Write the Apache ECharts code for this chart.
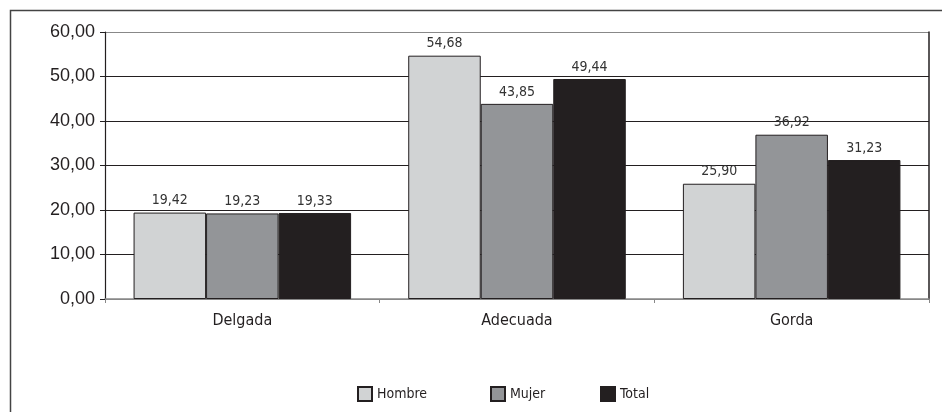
<!DOCTYPE html>
<html>
<head>
<meta charset="utf-8">
<script src="https://cdn.jsdelivr.net/npm/echarts@6/dist/echarts.min.js"></script>
<style>html,body{margin:0;padding:0;background:#fff}#c{width:942px;height:412px}</style>
</head>
<body>
<div id="c"></div>
<script>
var categories = ['Delgada', 'Adecuada', 'Gorda'];
var hombre = [19.42, 54.68, 25.90];
var mujer = [19.23, 43.85, 36.92];
var total = [19.33, 49.44, 31.23];
var seriesNames = ['Hombre', 'Mujer', 'Total'];
var yTicks = [0, 10, 20, 30, 40, 50, 60];

var narrow = "'DejaVu Sans Condensed', 'Liberation Sans Narrow', sans-serif";
var colors = ['#d1d3d4', '#939598', '#231f20'];
function fmt(v) { return Number(v).toFixed(2).replace('.', ','); }

var chart = echarts.init(document.getElementById('c'), null, {renderer: 'canvas'});
var seriesData = [hombre, mujer, total];
var series = seriesNames.map(function (n, i) {
  return {
    name: n, type: 'bar', data: seriesData[i],
    barGap: '0%', barCategoryGap: '20.8%',
    itemStyle: {color: colors[i], borderColor: '#231f20', borderWidth: 1},
    label: {show: true, position: 'top', distance: 5, formatter: function (p) { return fmt(p.value); },
      fontFamily: narrow, fontSize: 14, color: '#333'},
    emphasis: {disabled: true}
  };
});
var legendLefts = [357, 490, 600];
chart.setOption({
  animation: false,
  backgroundColor: '#fff',
  grid: {left: 105, right: 13, top: 32, bottom: 113, containLabel: false},
  xAxis: {
    type: 'category', data: categories,
    axisLine: {lineStyle: {color: '#888', width: 1.5}},
    axisTick: {show: true, length: 4, lineStyle: {color: '#888'}},
    axisLabel: {fontFamily: narrow, fontSize: 16, color: '#231f20', margin: 14}
  },
  yAxis: [{
    type: 'value', min: yTicks[0], max: yTicks[yTicks.length - 1], interval: 10,
    axisLine: {show: true, lineStyle: {color: '#231f20', width: 1.2}},
    axisTick: {show: true, length: 5, lineStyle: {color: '#231f20'}},
    axisLabel: {fontFamily: "'Liberation Sans', Arial, sans-serif", fontSize: 18, color: '#231f20', margin: 10,
      formatter: function (v) { return fmt(v); }},
    splitLine: {show: true, lineStyle: {color: ['#888', '#231f20', '#231f20', '#231f20', '#231f20', '#231f20', '#888'], width: 1.2}}
  }, {
    type: 'value', min: yTicks[0], max: yTicks[yTicks.length - 1], interval: 10, position: 'right',
    axisLine: {show: true, lineStyle: {color: '#231f20', width: 1.5}},
    axisTick: {show: false}, axisLabel: {show: false}, splitLine: {show: false}
  }],
  legend: seriesNames.map(function (n, i) {
    return {
      data: [n], left: legendLefts[i], top: 386, padding: 0, icon: 'rect',
      itemWidth: 14, itemHeight: 14, itemGap: 0,
      textStyle: {fontFamily: narrow, fontSize: 14, color: '#231f20'},
      selectedMode: false
    };
  }),
  graphic: [{
    type: 'polyline', silent: true,
    shape: {points: [[10.5, 412], [10.5, 10.5], [942, 10.5]]},
    style: {stroke: '#444', lineWidth: 1.5, fill: null}
  }],
  series: series
});
</script>
</body>
</html>
